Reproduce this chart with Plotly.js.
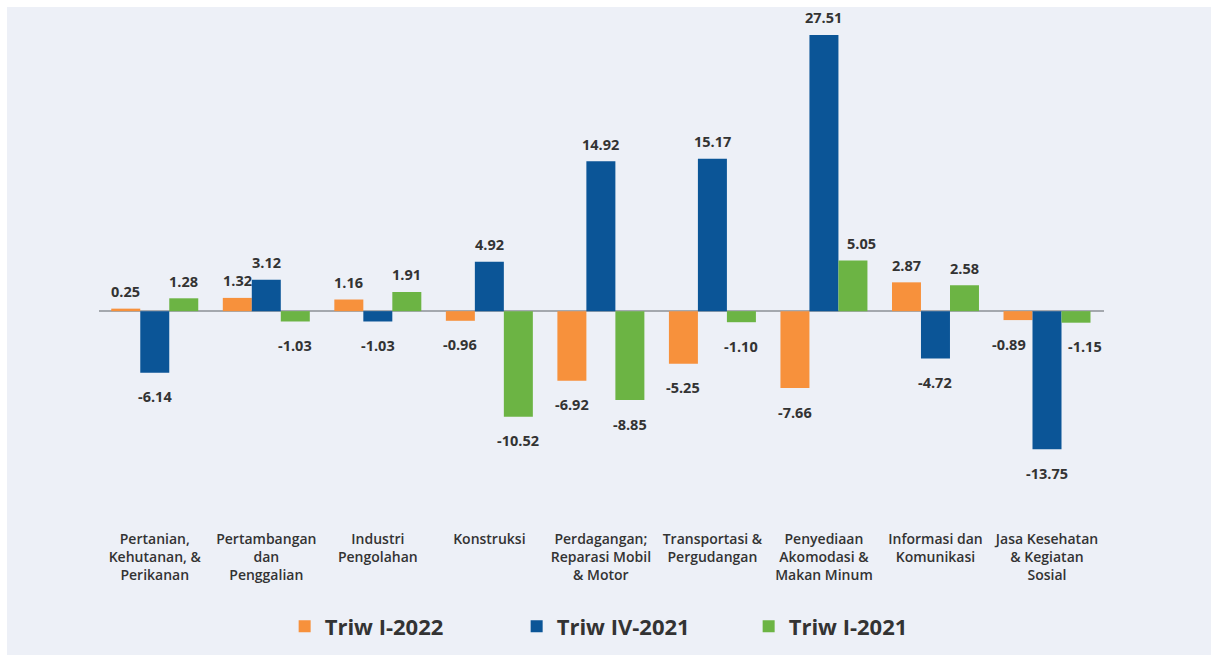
<!DOCTYPE html>
<html>
<head>
<meta charset="utf-8">
<script src="https://cdn.plot.ly/plotly-3.0.1.min.js"></script>
<style>
  html, body { margin: 0; padding: 0; background: #ffffff; }
  #chart { position: absolute; left: 7px; top: 7px; width: 1204px; height: 648px; }
</style>
</head>
<body>
<div id="chart"></div>
<script>
const categories = [
  "Pertanian,<br>Kehutanan, &<br>Perikanan",
  "Pertambangan<br>dan<br>Penggalian",
  "Industri<br>Pengolahan",
  "Konstruksi",
  "Perdagangan;<br>Reparasi Mobil<br>& Motor",
  "Transportasi &<br>Pergudangan",
  "Penyediaan<br>Akomodasi &<br>Makan Minum",
  "Informasi dan<br>Komunikasi",
  "Jasa Kesehatan<br>& Kegiatan<br>Sosial"
];
const seriesNames = ["Triw I-2022", "Triw IV-2021", "Triw I-2021"];
const triwI2022  = [0.25, 1.32, 1.16, -0.96, -6.92, -5.25, -7.66, 2.87, -0.89];
const triwIV2021 = [-6.14, 3.12, -1.03, 4.92, 14.92, 15.17, 27.51, -4.72, -13.75];
const triwI2021  = [1.28, -1.03, 1.91, -10.52, -8.85, -1.10, 5.05, 2.58, -1.15];
const colors = ["#f7913c", "#0b5597", "#6cb444"];

const allSeries = [triwI2022, triwIV2021, triwI2021];
const bargap = 0.22;
const barW = (1 - bargap) / 3;

const traces = allSeries.map((vals, s) => ({
  type: "bar",
  name: seriesNames[s],
  x: categories,
  y: vals,
  marker: { color: colors[s] },
  hoverinfo: "none"
}));

// nudge a label sideways when a much longer same-sign neighbour bar would cover it
function sideShift(s, i) {
  const v = allSeries[s][i];
  let shift = 0;
  [-1, 1].forEach(d => {
    const n = s + d;
    if (n < 0 || n > 2) return;
    const nv = allSeries[n][i];
    if (Math.sign(nv) === Math.sign(v) && Math.abs(nv) - Math.abs(v) > 5) shift -= d * 9;
  });
  return shift;
}

const annotations = [];
allSeries.forEach((vals, s) => {
  vals.forEach((v, i) => {
    annotations.push({
      x: i + (s - 1) * barW,
      y: v,
      xref: "x", yref: "y",
      text: v.toFixed(2),
      showarrow: false,
      yanchor: "middle",
      xshift: sideShift(s, i),
      yshift: v >= 0 ? 17 : -24,
      font: { family: "Open Sans, sans-serif", size: 14.5, color: "#333333", weight: 700 }
    });
  });
});

const layout = {
  width: 1204,
  height: 648,
  paper_bgcolor: "#edf0f7",
  plot_bgcolor: "#edf0f7",
  margin: { l: 92, r: 107, t: 13, b: 130, autoexpand: false },
  barmode: "group",
  bargap: bargap,
  bargroupgap: 0,
  showlegend: true,
  legend: {
    orientation: "h",
    x: 0.531, xanchor: "center",
    y: -0.201, yanchor: "middle",
    font: { family: "Open Sans, sans-serif", size: 22, color: "#333333", weight: 700 },
    entrywidth: 187,
    entrywidthmode: "pixels",
    bgcolor: "rgba(0,0,0,0)"
  },
  xaxis: {
    type: "category",
    showgrid: false,
    showline: false,
    ticks: "",
    tickangle: 0,
    ticklabelstandoff: 4,
    tickfont: { family: "Open Sans, sans-serif", size: 14, color: "#333333", weight: 600 }
  },
  yaxis: {
    range: [-21.3, 29.0],
    showgrid: false,
    showticklabels: false,
    zeroline: true,
    zerolinecolor: "#a4a8ae",
    zerolinewidth: 2,
    showline: false,
    ticks: ""
  },
  annotations: annotations
};

Plotly.newPlot("chart", traces, layout, { displayModeBar: false, staticPlot: true });
</script>
</body>
</html>
